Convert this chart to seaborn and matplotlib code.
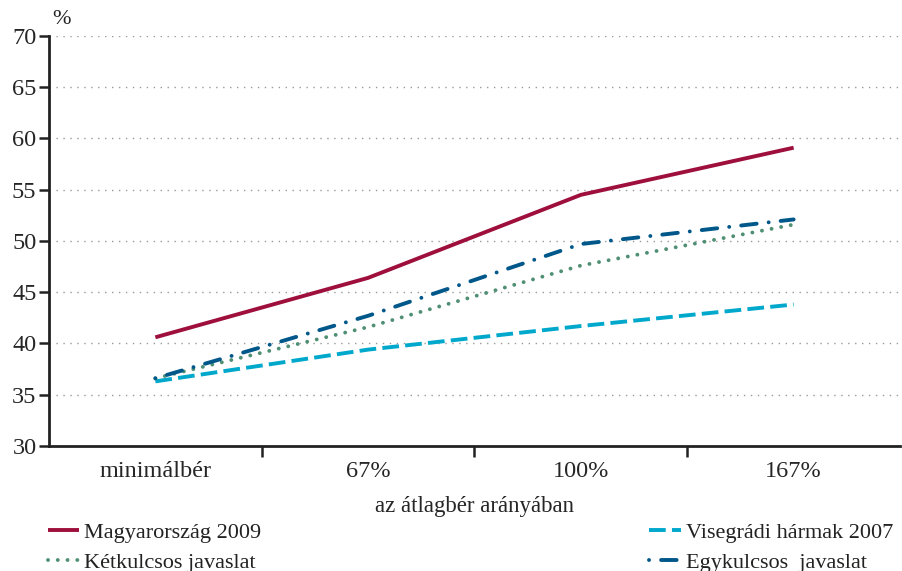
import matplotlib
matplotlib.use("Agg")
import matplotlib.pyplot as plt
import seaborn as sns
import pandas as pd
from matplotlib.lines import Line2D

categories = ["minimálbér", "67%", "100%", "167%"]
magyarorszag_2009 = [40.6, 46.4, 54.5, 59.1]
visegradi_2007 = [36.3, 39.4, 41.7, 43.8]
ketkulcsos = [36.6, 41.6, 47.6, 51.6]
egykulcsos = [36.6, 42.7, 49.7, 52.1]

series_names = ["Magyarország 2009", "Visegrádi hármak 2007",
                "Kétkulcsos javaslat", "Egykulcsos  javaslat"]
series_values = [magyarorszag_2009, visegradi_2007, ketkulcsos, egykulcsos]
colors = ["#9E0F3C", "#00A8CC", "#4F8F73", "#00578A"]
# dash pattern and cap style per series
dashes = [None, (4.3, 1.6), (0.01, 2.5), (0.01, 3.1, 4.0, 3.1)]
caps = ["butt", "butt", "round", "round"]
LW = 2.8

sns.set_theme(style="white")
plt.rcParams["font.family"] = ["Liberation Serif", "DejaVu Serif"]
plt.rcParams["text.color"] = "#222222"

fig = plt.figure(figsize=(9.02, 5.71), dpi=100)
ax = fig.add_axes([0.0543, 0.219, 0.9435, 0.718])


def style_line(line, ds, cap):
    if ds is not None:
        line.set_dashes(ds)
    line.set_dash_capstyle(cap)
    line.set_solid_capstyle("butt")


handles = []
for name, vals, col, ds, cap in zip(series_names, series_values, colors, dashes, caps):
    df = pd.DataFrame({"x": categories, "y": vals})
    sns.lineplot(data=df, x="x", y="y", ax=ax, color=col, linewidth=LW,
                 sort=False, legend=False)
    style_line(ax.lines[-1], ds, cap)
    h = Line2D([], [], color=col, linewidth=LW)
    style_line(h, ds, cap)
    handles.append(h)

ax.set_xlim(-0.5, 3.5)
ax.set_ylim(30, 70)
ax.set_yticks(range(30, 71, 5))
ax.set_xticks(range(len(categories)))
ax.set_xticklabels(categories)
ax.set_xticks([0.5, 1.5, 2.5], minor=True)
ax.tick_params(axis="x", which="major", length=0, pad=11, labelsize=17.5)
ax.tick_params(axis="x", which="minor", length=8, width=1.8, color="#222222",
               direction="out", bottom=True)
ax.tick_params(axis="y", which="major", length=7, width=1.8, color="#222222",
               direction="out", left=True, labelsize=17.5, pad=2)
ax.yaxis.grid(True, linestyle=(0, (1, 4)), color="#999999", linewidth=1)
ax.xaxis.grid(False)
for side in ["top", "right"]:
    ax.spines[side].set_visible(False)
for side in ["left", "bottom"]:
    ax.spines[side].set_color("#222222")
    ax.spines[side].set_linewidth(2)
ax.set_xlabel("az átlagbér arányában", fontsize=16.5, labelpad=10)
ax.set_ylabel("")
fig.text(0.068, 0.966, "%", fontsize=16, ha="center", va="center")

leg_kw = dict(frameon=False, fontsize=16, handlelength=1.4, handletextpad=0.25,
              labelspacing=0.42, borderaxespad=0, borderpad=0)
fig.legend([handles[0], handles[2]], [series_names[0], series_names[2]],
           loc="upper left", bbox_to_anchor=(0.053, 0.085), **leg_kw)
fig.legend([handles[1], handles[3]], [series_names[1], series_names[3]],
           loc="upper left", bbox_to_anchor=(0.72, 0.085), **leg_kw)

fig.savefig("out.png", dpi=100)
